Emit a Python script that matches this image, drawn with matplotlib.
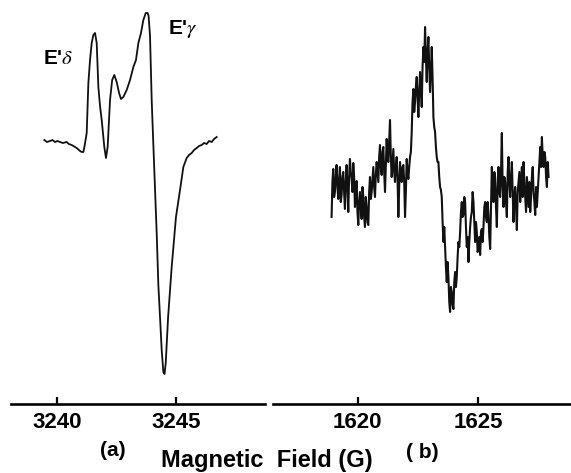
import numpy as np
import matplotlib
matplotlib.use("Agg")
import matplotlib.pyplot as plt

plt.rcParams['font.family'] = ['Liberation Sans', 'DejaVu Sans']
plt.rcParams['mathtext.fontset'] = 'stix'

# panel (a): E' centres spectrum near 3243 G (arbitrary amplitude)
field_a = [3239.47, 3239.58, 3239.71, 3239.81, 3239.92, 3240.02, 3240.13, 3240.25,
           3240.41, 3240.50, 3240.62, 3240.83, 3240.97, 3241.04, 3241.11, 3241.16,
           3241.25, 3241.32, 3241.39, 3241.46, 3241.53, 3241.60, 3241.67, 3241.74,
           3241.81, 3241.88, 3241.99, 3242.06, 3242.13, 3242.23, 3242.32, 3242.41,
           3242.51, 3242.61, 3242.69, 3242.79, 3242.93, 3243.07, 3243.21, 3243.32,
           3243.42, 3243.53, 3243.63, 3243.73, 3243.81, 3243.85, 3243.91, 3243.98,
           3244.05, 3244.12, 3244.19, 3244.26, 3244.33, 3244.40, 3244.47, 3244.52,
           3244.57, 3244.67, 3244.82, 3245.00, 3245.17, 3245.31, 3245.45, 3245.55,
           3245.66, 3245.76, 3245.87, 3245.97, 3246.08, 3246.18, 3246.29, 3246.39,
           3246.50, 3246.60, 3246.71]
signal_a = [1, -1, 0, 1, -1, 0, -1, -2,
            -1, -3, -4, -7, -10, -11, -11, -5,
            8, 58, 81, 98, 106, 108, 98, 54,
            35, 21, -6, -17, -6, 41, 61, 66,
            59, 48, 42, 44, 51, 61, 74, 81,
            98, 108, 121, 128, 128, 125, 105, 41,
            -4, -48, -92, -144, -176, -209, -231, -233,
            -222, -176, -126, -76, -49, -26, -17, -14,
            -12, -9, -7, -5, -4, -2, -3, 0,
            -1, 2, 4]

# panel (b): noisy spectrum near 1623 G, sampled evenly from 1618.92 to 1627.92 G
field_b_start, field_b_end = 1618.92, 1627.92
signal_b = [
    -30, 5, 18, -10, -5, 12, 22, 0, -12, 8, 20, -15, -8, 10, 15, -5,
    -22, 5, 22, 0, -25, 10, 28, 15, 8, -5, 24, 10, -20, -5, 6, -25,
    -38, -15, -5, -20, -32, 0, -10, -30, -40, -10, -20, -35, -38, -5, 10, -12,
    -5, 8, 20, 0, -10, 12, 25, 15, 5, 30, 42, 20, 12, 35, 40, 15,
    -5, 20, 48, 30, 25, 45, 67, 30, 10, 25, 38, 15, 5, 20, 30, 10,
    -30, 0, 25, 10, 5, 20, 22, 5, -30, -5, 28, 15, 8, 20, 30, 35,
    55, 85, 98, 75, 85, 100, 110, 90, 70, 95, 115, 100, 80, 120, 140, 125,
    160, 130, 105, 135, 150, 120, 95, 115, 140, 110, 70, 60, 55, 40, 30, 25,
    25, 10, 0, -3,
    -10, -35, -55, -40, -60, -80, -95, -75, -90, -115, -125, -100, -105, -118, -122, -95,
    -85, -100, -90, -70, -55, -60, -45, -25, -15, -30, -28, -10, -15, -40, -60, -50,
    -75, -55, -40, -30, -25, -5, -15, -35, -55, -35, -45, -65, -60, -50, -68, -45,
    -42, -55, -40, -20, -15, -30, -35, -15, -28, -50, -62, -20, 20, -5, -15, 15,
    10, -20, -40, 0, 20, -5, -10, 15, 54, 0, -20, 10, 5, -15, -30, 15,
    30, 5, -10, 10, 25, -5, -35, -10, 0, -20, -43, -5, 5, 15, -15, 0,
    20, -10, 25, 5, -10, -25, 10, -5, -20, 5, -25, -10, 10, 20, -5, -15,
    -28, 0, -20, -5, 10, 25, 40, 20, 50, 30, 20, 35, 30, 10, 0, 25,
    10]
field_b = np.linspace(field_b_start, field_b_end, len(signal_b))

ticks_a = [3240, 3245]
ticks_b = [1620, 1625]

W, H = 571, 473
fig = plt.figure(figsize=(W / 100, H / 100), dpi=100)


def px_axes(x0, x1, y_top, y_bottom):
    return fig.add_axes([x0 / W, 1 - y_bottom / H, (x1 - x0) / W, (y_bottom - y_top) / H])


def style(ax, ticks):
    for s in ['left', 'right', 'top']:
        ax.spines[s].set_visible(False)
    ax.spines['bottom'].set_linewidth(1.9)
    ax.set_yticks([])
    ax.set_xticks(ticks)
    ax.tick_params(axis='x', direction='in', length=5, width=1.6, pad=6,
                   labelsize=16)
    for lab in ax.get_xticklabels():
        lab.set_fontweight('bold')
    ax.patch.set_visible(False)


ax_a = px_axes(11, 265, 0, 404)
ax_a.plot(field_a, signal_a, color='#111111', lw=1.3)
ax_a.set_xlim(3238.07, 3248.74)
ax_a.set_ylim(-263, 141)
style(ax_a, ticks_a)

ax_b = px_axes(273, 571, 0, 404)
ax_b.plot(field_b, signal_b, color='#111111', lw=1.5)
ax_b.set_xlim(1616.49, 1628.85)
ax_b.set_ylim(-217, 187)
style(ax_b, ticks_b)

fig.text(58 / W, 1 - 59 / H, r"E'$\delta$", ha='center', va='center',
         fontsize=15, fontweight='bold')
fig.text(183 / W, 1 - 29 / H, r"E'$\gamma$", ha='center', va='center',
         fontsize=15, fontweight='bold')
fig.text(113 / W, 1 - 450 / H, "(a)", ha='center', va='center',
         fontsize=15, fontweight='bold')
fig.text(422 / W, 1 - 452 / H, "( b)", ha='center', va='center',
         fontsize=15, fontweight='bold')
fig.text(267 / W, 1 - 472 / H, "Magnetic  Field (G)", ha='center', va='bottom',
         fontsize=17, fontweight='bold')

fig.savefig('out.png', dpi=100)
